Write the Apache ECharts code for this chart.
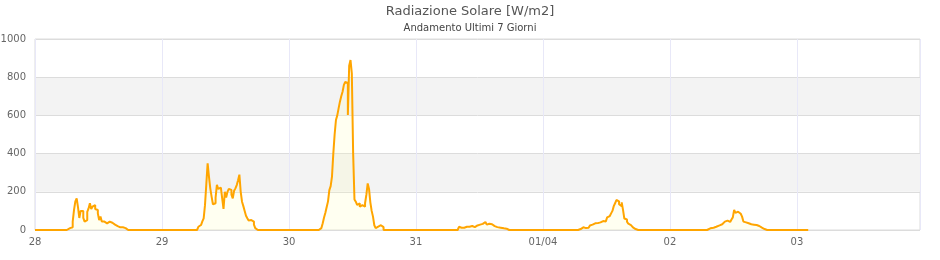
<!DOCTYPE html>
<html>
<head>
<meta charset="utf-8">
<script src="https://cdn.jsdelivr.net/npm/echarts@6/dist/echarts.min.js"></script>
<style>html,body{margin:0;padding:0;background:#fff;}#c{width:940px;height:260px;}</style>
</head>
<body>
<div id="c"></div>
<script>
// Tick labels (one per day, starting 28 March 00:00)
const tickLabels = ['28', '29', '30', '31', '01/04', '02', '03'];
// Sampling step in hours
const stepHours = 0.25;
// Daylight readings per day [W/m2], 15-minute samples, starting at the given hour
const startHours = [6, 6.5, 5.75, 7.75, 6.5, 7.25];
const day28 = [0,0,10,14,14,44,105,150,166,120,63,100,100,63,44,52,95,113,140,110,122,131,110,105,87,52,70,44,44,35,35,40,44,38,38,33,31,28,26,20,17,14,14,10,10,8,7,0];
const day29 = [0,10,17,26,35,45,61,130,240,349,280,218,175,135,140,170,236,215,222,215,165,110,200,170,200,215,210,185,166,205,218,235,260,290,200,148,125,100,75,62,50,48,52,44,28,10,0];
const day30 = [0,10,20,35,65,90,120,150,209,230,280,400,500,576,600,637,672,700,724,760,775,770,602,860,890,820,400,160,148,131,140,122,130,135,122,140,185,244,215,145,100,70,25,10,12,18,25,35,15,0];
const day31 = [0,9,17,14,12,12,12,15,17,17,12,14,21,15,20,24,26,28,30,30,32,35,42,28,33,35,30,25,23,20,17,15,12,12,10,9,8,7,7,5,0];
const day01 = [0,5,5,9,12,14,10,17,12,20,24,28,22,35,32,33,36,40,38,47,49,45,55,66,73,80,87,100,125,140,157,150,135,125,145,105,60,55,44,33,26,17,14,8,5,3,0];
const day02 = [0,9,10,12,12,14,17,20,24,26,30,35,38,44,47,49,42,45,55,66,105,90,87,96,99,85,70,44,40,38,35,32,30,26,24,28,30,26,21,16,12,10,9,5,0];
const dailyReadings = [day28, day29, day30, day31, day01, day02];
// Last reading time (hours since 28 March 00:00) and visible axis end
const lastReadingHour = 146.25;
const axisEndHour = 167.25;

// Build the series: zero at night, daylight readings otherwise
const readings = new Map();
dailyReadings.forEach((arr, d) => {
  arr.forEach((v, i) => {
    const h = d * 24 + startHours[d] + i * stepHours;
    readings.set(Math.round(h / stepHours), v);
  });
});
const data = [];
for (let k = 0; k <= Math.round(lastReadingHour / stepHours); k++) {
  data.push([k * stepHours, readings.has(k) ? readings.get(k) : 0]);
}

const chart = echarts.init(document.getElementById('c'), null, {renderer: 'canvas'});
chart.setOption({
  animation: false,
  title: {
    text: 'Radiazione Solare [W/m2]',
    subtext: 'Andamento Ultimi 7 Giorni',
    left: 'center',
    top: 0,
    itemGap: 5,
    textStyle: {fontFamily: 'DejaVu Sans', fontSize: 13, fontWeight: 'normal', color: '#555'},
    subtextStyle: {fontFamily: 'DejaVu Sans', fontSize: 10, color: '#444'}
  },
  grid: {left: 35, right: 20, top: 39, bottom: 30, containLabel: false, outerBoundsMode: 'none',
         show: true, borderColor: '#dcdcdc', borderWidth: 1, backgroundColor: 'transparent'},
  xAxis: {
    type: 'value',
    min: 0,
    max: axisEndHour,
    interval: 24,
    axisLine: {show: false},
    axisTick: {show: false},
    axisLabel: {
      showMaxLabel: false,
      fontFamily: 'DejaVu Sans', fontSize: 10, color: '#666', margin: 7,
      formatter: v => (v % 24 === 0 ? (tickLabels[v / 24] || '') : '')
    },
    splitLine: {show: true, lineStyle: {color: '#e8e8f8', width: 1}}
  },
  yAxis: {
    type: 'value',
    min: 0,
    max: 1000,
    interval: 200,
    axisLine: {show: false},
    axisTick: {show: false},
    axisLabel: {fontFamily: 'DejaVu Sans', fontSize: 10, color: '#666', margin: 9,
                formatter: v => String(v)},
    splitLine: {show: true, lineStyle: {color: '#dcdcdc', width: 1}},
    splitArea: {show: true, areaStyle: {color: ['rgba(255,255,255,0)', '#f3f3f3']}}
  },
  series: [{
    type: 'line',
    data: data,
    step: 'middle',
    showSymbol: false,
    symbol: 'none',
    lineStyle: {color: '#ffa500', width: 2},
    areaStyle: {color: 'rgba(255,255,190,0.3)'},
    z: 3
  }]
});
</script>
</body>
</html>
